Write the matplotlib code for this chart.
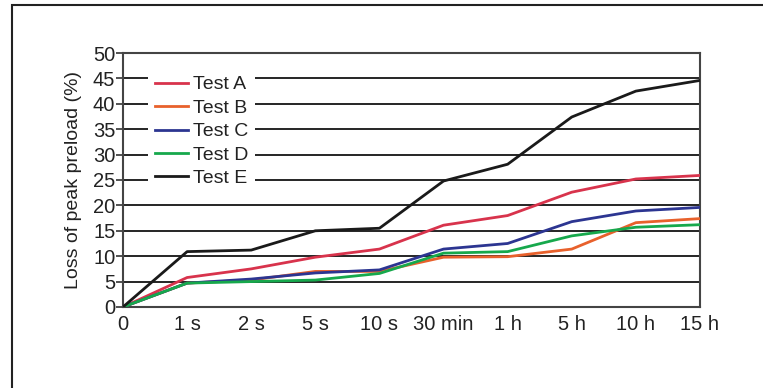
import matplotlib
matplotlib.use("Agg")
import matplotlib.pyplot as plt
from matplotlib.patches import Rectangle

plt.rcParams['font.family'] = ['Liberation Sans', 'DejaVu Sans']

times = ["0", "1 s", "2 s", "5 s", "10 s", "30 min", "1 h", "5 h", "10 h", "15 h"]
test_a = [0, 5.8, 7.5, 9.8, 11.4, 16.1, 18.0, 22.6, 25.2, 25.9]
test_b = [0, 4.7, 5.3, 7.0, 7.0, 9.8, 9.9, 11.4, 16.6, 17.4]
test_c = [0, 4.7, 5.5, 6.7, 7.3, 11.4, 12.5, 16.8, 18.9, 19.6]
test_d = [0, 4.7, 5.0, 5.3, 6.6, 10.6, 10.9, 14.0, 15.7, 16.2]
test_e = [0, 10.9, 11.2, 15.0, 15.5, 24.8, 28.1, 37.4, 42.5, 44.6]

series = [
    ("Test A", test_a, "#d8334c"),
    ("Test B", test_b, "#e8612c"),
    ("Test C", test_c, "#2c3591"),
    ("Test D", test_d, "#16a84c"),
    ("Test E", test_e, "#1a1a1a"),
]

fig = plt.figure(figsize=(7.63, 3.88), dpi=100)
ax = fig.add_axes([0.1612, 0.2088, 0.7562, 0.6546])

# outer frame around the figure
fig.patches.append(Rectangle((12 / 763, -0.1), 1.2, 1.1 - 5 / 388,
                             transform=fig.transFigure, fill=False,
                             edgecolor="#222222", linewidth=1.5))

x = list(range(len(times)))
for label, vals, col in series:
    ax.plot(x, vals, color=col, linewidth=2, label=label, zorder=3)

ax.set_xlim(0, len(times) - 1)
ax.set_ylim(0, 50)
ax.set_yticks(range(0, 51, 5))
ax.set_xticks(x)
ax.set_xticklabels(times)
ax.yaxis.grid(True, color="black", linewidth=1.2)
ax.set_axisbelow(True)
ax.tick_params(axis="y", length=5, width=1.2, color="#333333", labelsize=14.5,
               labelcolor="#222222", pad=0.5)
ax.tick_params(axis="x", length=0, labelsize=14.5, labelcolor="#222222", pad=6)
for s in ax.spines.values():
    s.set_color("#444444")
    s.set_linewidth(1.5)
ax.set_ylabel("Loss of peak preload (%)", fontsize=14, color="#222222", labelpad=8)

leg = ax.legend(loc="upper left", bbox_to_anchor=(0.027, 0.975), fontsize=14,
                frameon=True, facecolor="white", edgecolor="none", framealpha=1,
                handlelength=1.7, handletextpad=0.25, labelspacing=0.3,
                borderpad=0.35, fancybox=False)
leg.set_zorder(4)
for t in leg.get_texts():
    t.set_color("#222222")

fig.savefig("out.png", dpi=100)
